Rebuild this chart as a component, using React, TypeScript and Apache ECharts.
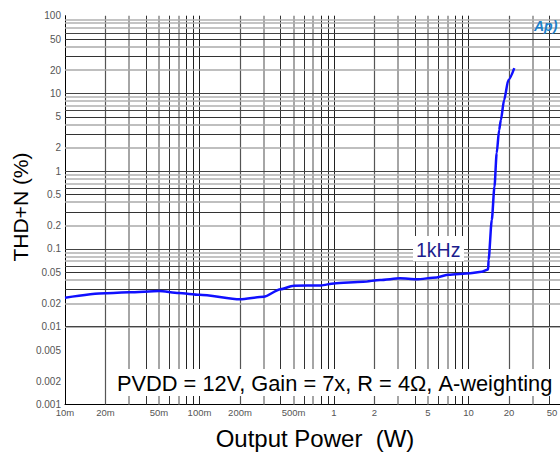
import React, { useEffect, useRef } from "react";
import * as echarts from "echarts";

// Output power (W) and THD+N (%)
const power = [0.01, 0.02, 0.03, 0.05, 0.07, 0.1, 0.2, 0.3, 0.4, 0.5, 0.8, 1.0, 1.65, 2.2, 3.1, 4.1, 5.8, 7.1, 10.3, 12.5, 14.0, 14.1, 14.9, 15.6, 16.2, 16.9, 17.4, 18.4, 19.8, 21.9];
const thd = [0.0236, 0.0269, 0.0277, 0.0288, 0.0271, 0.0258, 0.0225, 0.0243, 0.0303, 0.0337, 0.034, 0.0361, 0.0379, 0.0399, 0.0419, 0.0407, 0.0431, 0.0467, 0.0486, 0.0509, 0.0546, 0.0721, 0.236, 0.632, 1.7, 3.39, 4.56, 8.24, 14.9, 21.2];

// x tick labels drawn by the axis; the last one (50) sits at the cropped edge and is drawn separately
const xTickLabels = [0.01, 0.02, 0.05, 0.1, 0.2, 0.5, 1, 2, 5, 10, 20];
const xEdgeLabel = "50";
const yTickLabels = [0.001, 0.002, 0.005, 0.01, 0.02, 0.05, 0.1, 0.2, 0.5, 1, 2, 5, 10, 20, 50, 100];
const xDecades = [0.01, 0.1, 1, 10];
const yDecades = [0.001, 0.01, 0.1, 1, 10];
const multipliers = [1, 2, 3, 4, 5, 6, 7, 8, 9];
const X_MIN = 0.01, X_MAX = 50, Y_MIN = 0.001, Y_MAX = 100;

const vStyle: Record<number, any> = {
  1: { color: "#222", width: 1 }, 2: { color: "#555", width: 1.2 }, 3: { color: "#888", width: 1.5 },
  4: { color: "#333", width: 1 }, 5: { color: "#888", width: 1.5 }, 6: { color: "#333", width: 1 },
  7: { color: "#888", width: 1.5 }, 8: { color: "#222", width: 1 }, 9: { color: "#222", width: 1 },
};
const hStyle: Record<number, any> = {
  1: { color: "#444", width: 1 }, 2: { color: "#aaa", width: 1.5 }, 3: { color: "#333", width: 1 },
  4: { color: "#aaa", width: 1.5 }, 5: { color: "#333", width: 1 }, 6: { color: "#444", width: 1 },
  7: { color: "#b0b0b0", width: 1.5 }, 8: { color: "#b0b0b0", width: 1.5 }, 9: { color: "#b0b0b0", width: 1.5 },
};

function gridLines() {
  const items: any[] = [];
  xDecades.forEach((d) =>
    multipliers.forEach((m) => {
      const v = parseFloat((d * m).toPrecision(3));
      if (v > X_MIN && v <= X_MAX) items.push({ xAxis: v, lineStyle: { ...vStyle[m], type: "solid" } });
    })
  );
  yDecades.forEach((d) =>
    multipliers.forEach((m) => {
      const v = parseFloat((d * m).toPrecision(3));
      if (v > Y_MIN && v <= Y_MAX) items.push({ yAxis: v, lineStyle: { ...hStyle[m], type: "solid" } });
    })
  );
  return items;
}

const fmtX = (v: number) => (v < 1 ? `${Math.round(v * 1000)}m` : `${v}`);

export default function App() {
  const ref = useRef<HTMLDivElement>(null);
  useEffect(() => {
    if (!ref.current) return;
    const chart = echarts.init(ref.current, null, { renderer: "svg" });
    chart.setOption({
      animation: false,
      backgroundColor: "#fff",
      grid: { left: 65, top: 15.7, right: -2.5, bottom: 50.5, outerBoundsMode: "none" },
      xAxis: {
        type: "log",
        logBase: 10,
        min: X_MIN,
        max: X_MAX,
        axisLine: { show: true, lineStyle: { color: "#000", width: 1 } },
        axisTick: { show: false },
        splitLine: { show: false },
        minorSplitLine: { show: false },
        axisLabel: {
          customValues: xTickLabels,
          formatter: (v: number) => fmtX(v),
          color: "#555",
          fontSize: 9.5,
          fontFamily: "Arial, Liberation Sans",
          margin: 3,
          hideOverlap: false,
        },
      },
      yAxis: {
        type: "log",
        logBase: 10,
        min: Y_MIN,
        max: Y_MAX,
        axisLine: { show: true, lineStyle: { color: "#000", width: 1 } },
        axisTick: { show: false },
        splitLine: { show: false },
        minorSplitLine: { show: false },
        axisLabel: {
          customValues: yTickLabels,
          formatter: (v: number) => `${v}`,
          color: "#555",
          fontSize: 10,
          fontFamily: "Arial, Liberation Sans",
          margin: 4,
          hideOverlap: false,
        },
      },
      series: [
        {
          type: "line",
          z: 1,
          data: [[X_MIN, Y_MIN]],
          showSymbol: false,
          lineStyle: { opacity: 0 },
          silent: true,
          markLine: {
            silent: true,
            symbol: ["none", "none"],
            label: { show: false },
            emphasis: { disabled: true },
            data: gridLines(),
          },
        },
        {
          type: "line",
          z: 5,
          data: power.map((p, i) => [p, thd[i]]),
          showSymbol: false,
          smooth: 0.25,
          smoothMonotone: "x",
          lineStyle: { color: "#1010ff", width: 2.5 },
          silent: true,
        },
      ],
      graphic: [
        {
          type: "text",
          z: 51,
          x: 552,
          y: 412,
          style: {
            text: xEdgeLabel,
            fontSize: 9.5,
            fontFamily: "Arial, Liberation Sans",
            fill: "#555",
            align: "center",
            verticalAlign: "middle",
          },
        },
        {
          type: "rect",
          z: 50,
          shape: { x: 115, y: 369, width: 441, height: 27 },
          style: { fill: "#fff" },
        },
        {
          type: "text",
          z: 51,
          x: 117,
          y: 383.5,
          style: {
            text: "PVDD = 12V, Gain = 7x, R = 4Ω, A-weighting",
            fontSize: 21.8,
            fontFamily: "Arial, Liberation Sans",
            fill: "#000",
            verticalAlign: "middle",
          },
        },
        {
          type: "rect",
          z: 50,
          shape: { x: 413, y: 236, width: 51, height: 25 },
          style: { fill: "#fff" },
        },
        {
          type: "text",
          z: 51,
          x: 416,
          y: 250,
          style: {
            text: "1kHz",
            fontSize: 19.5,
            fontFamily: "Arial, Liberation Sans",
            fill: "#1c1c8c",
            verticalAlign: "middle",
          },
        },
        {
          type: "text",
          z: 51,
          x: 20,
          y: 207,
          rotation: Math.PI / 2,
          style: {
            text: "THD+N (%)",
            fontSize: 21,
            fontFamily: "Arial, Liberation Sans",
            fill: "#000",
            align: "center",
            verticalAlign: "middle",
          },
        },
        {
          type: "text",
          z: 51,
          x: 315,
          y: 438,
          style: {
            text: "Output Power  (W)",
            fontSize: 24,
            fontFamily: "Arial, Liberation Sans",
            fill: "#000",
            align: "center",
            verticalAlign: "middle",
          },
        },
        {
          type: "text",
          z: 51,
          x: 534,
          y: 26,
          style: {
            text: "Ap)",
            fontSize: 14,
            fontStyle: "italic",
            fontWeight: "bold",
            fontFamily: "Arial, Liberation Sans",
            fill: "#2080c8",
            verticalAlign: "middle",
          },
        },
      ],
    });
    return () => chart.dispose();
  }, []);
  return <div ref={ref} style={{ position: "fixed", left: 0, top: 0, width: 560, height: 455 }} />;
}
